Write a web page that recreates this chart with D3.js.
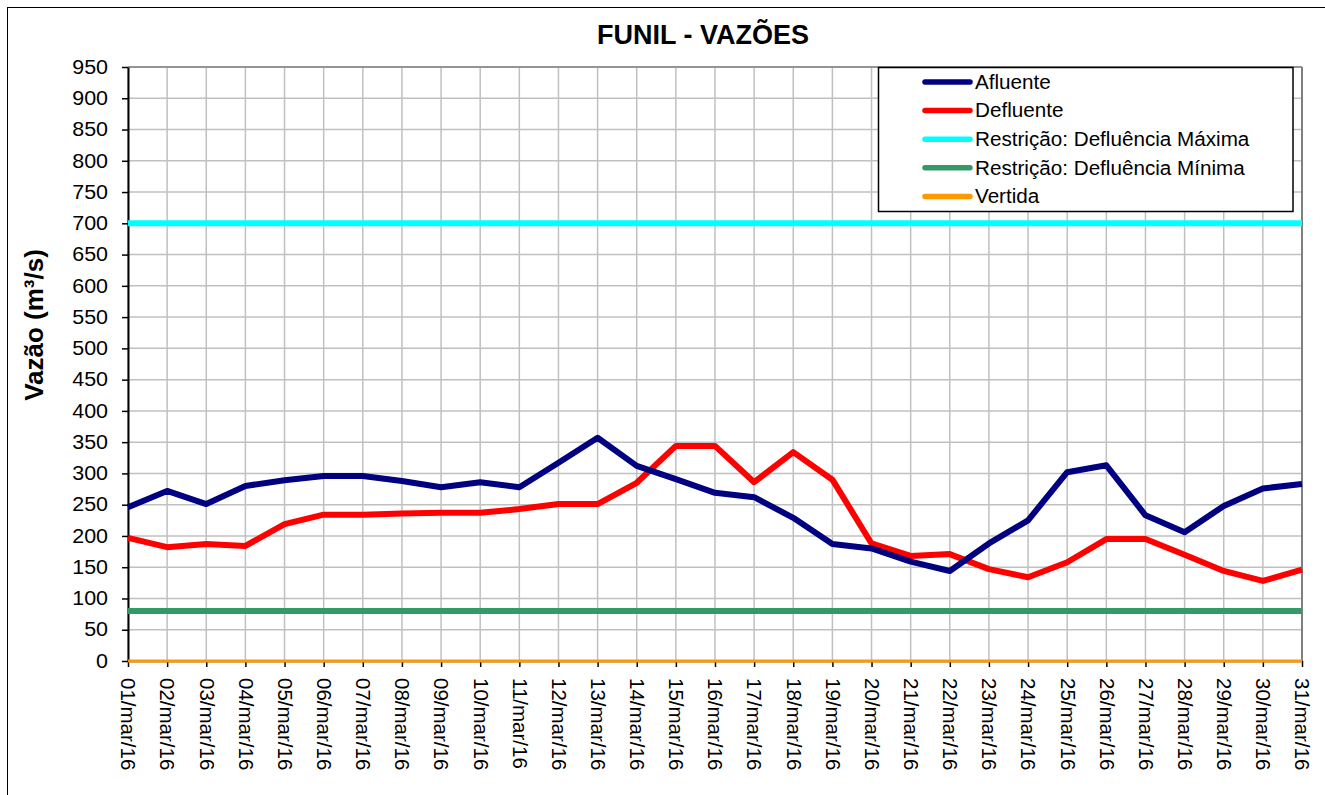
<!DOCTYPE html>
<html><head><meta charset="utf-8">
<script src="https://cdn.jsdelivr.net/npm/d3@7"></script>
<style>body{margin:0;background:#fff}svg{display:block;font-family:"Liberation Sans",Arial,sans-serif}</style>
</head><body>
<svg id="c" width="1325" height="795"></svg>
<script>
const days = ["01/mar/16","02/mar/16","03/mar/16","04/mar/16","05/mar/16","06/mar/16","07/mar/16","08/mar/16","09/mar/16","10/mar/16","11/mar/16","12/mar/16","13/mar/16","14/mar/16","15/mar/16","16/mar/16","17/mar/16","18/mar/16","19/mar/16","20/mar/16","21/mar/16","22/mar/16","23/mar/16","24/mar/16","25/mar/16","26/mar/16","27/mar/16","28/mar/16","29/mar/16","30/mar/16","31/mar/16"];
const afluente = [246,272,251,280,289,296,296,288,278,286,278,317,357,312,291,269,262,229,187,180,159,144,188,225,302,313,233,206,248,276,283];
const defluente = [197,182,187,184,219,234,234,236,237,237,243,251,251,285,344,344,286,334,290,188,168,171,147,134,158,195,195,170,144,128,146];
const defMax = days.map(() => 700);
const defMin = days.map(() => 80);
const vertida = days.map(() => 0);
const yTicks = d3.range(0, 951, 50);
const seriesNames = ["Afluente","Defluente","Restrição: Defluência Máxima","Restrição: Defluência Mínima","Vertida"];
const seriesColors = ["#000080","#ff0000","#00ffff","#339966","#ff9900"];

const svg = d3.select("#c");
const L = 128, R = 1302, T = 67, B = 661;
const x = d3.scalePoint().domain(days).range([L, R]);
const y = d3.scaleLinear().domain([0, 950]).range([B, T]);

svg.append("rect").attr("x",7.5).attr("y",7.5).attr("width",1340).attr("height",800)
  .attr("fill","#fff").attr("stroke","#000").attr("stroke-width",1);

// grid
const g = svg.append("g");
g.selectAll(".hg").data(yTicks).join("line")
  .attr("x1",L).attr("x2",R).attr("y1",d=>y(d)).attr("y2",d=>y(d))
  .attr("stroke","#c0c0c0").attr("stroke-width",1.5);
g.selectAll(".vg").data(days).join("line")
  .attr("x1",d=>x(d)).attr("x2",d=>x(d)).attr("y1",T).attr("y2",B)
  .attr("stroke","#c0c0c0").attr("stroke-width",1.5);
svg.append("line").attr("x1",R).attr("x2",R).attr("y1",T).attr("y2",B).attr("stroke","#808080").attr("stroke-width",2);
svg.append("line").attr("x1",L).attr("x2",R).attr("y1",T).attr("y2",T).attr("stroke","#808080").attr("stroke-width",1.5);

// axes
const ya = svg.append("g").attr("transform",`translate(${L},0)`)
  .call(d3.axisLeft(y).tickValues(yTicks).tickSize(6).tickPadding(14).tickSizeOuter(0));
ya.select(".domain").attr("stroke","#000").attr("stroke-width",2);
ya.selectAll(".tick line").attr("stroke","#000").attr("stroke-width",1.5);
ya.selectAll("text").attr("font-size",19.5).attr("fill","#000").attr("font-family","Liberation Sans, Arial, sans-serif")
  .attr("x",0).attr("transform","translate(-20,0) scale(1.1,1)");

const xa = svg.append("g").attr("transform",`translate(0,${B})`)
  .call(d3.axisBottom(x).tickSize(6).tickSizeOuter(0));
xa.select(".domain").attr("stroke","#000").attr("stroke-width",1.5);
xa.selectAll(".tick line").attr("stroke","#000").attr("stroke-width",1.5);
xa.selectAll("text").attr("font-size",20.5).attr("fill","#000").attr("font-family","Liberation Sans, Arial, sans-serif")
  .attr("transform","rotate(90)").attr("text-anchor","start").attr("dy","0.35em").attr("x",17).attr("y",0);

// lines
const allSeries = [afluente, defluente, defMax, defMin, vertida];
const widths = [6,6,6,6,3];
const line = d3.line().x((d,i)=>x(days[i])).y(d=>y(d));
[4,3,2,1,0].forEach(k=>{
  svg.append("path").datum(allSeries[k]).attr("d",line)
    .attr("fill","none").attr("stroke",seriesColors[k]).attr("stroke-width",widths[k])
    .attr("stroke-linejoin","round");
});

// title
svg.append("text").attr("x",703).attr("y",44).attr("text-anchor","middle")
  .attr("font-size",27).attr("font-weight","bold").text("FUNIL - VAZÕES");
svg.append("text").attr("transform","translate(43,325) rotate(-90)").attr("text-anchor","middle")
  .attr("font-size",26).attr("font-weight","bold").text("Vazão (m³/s)");

// legend
const lg = svg.append("g");
lg.append("rect").attr("x",878.5).attr("y",67.5).attr("width",414.5).attr("height",144)
  .attr("fill","#fff").attr("stroke","#000").attr("stroke-width",1.5);
seriesNames.forEach((n,i)=>{
  const yy = 82 + i*28.6;
  lg.append("line").attr("x1",925).attr("x2",970).attr("y1",yy).attr("y2",yy)
    .attr("stroke",seriesColors[i]).attr("stroke-width",5.5).attr("stroke-linecap","round");
  lg.append("text").attr("transform",`translate(975,${yy}) scale(1.06,1)`).attr("dy","0.35em").attr("font-size",19.5).text(n);
});
</script>
</body></html>
